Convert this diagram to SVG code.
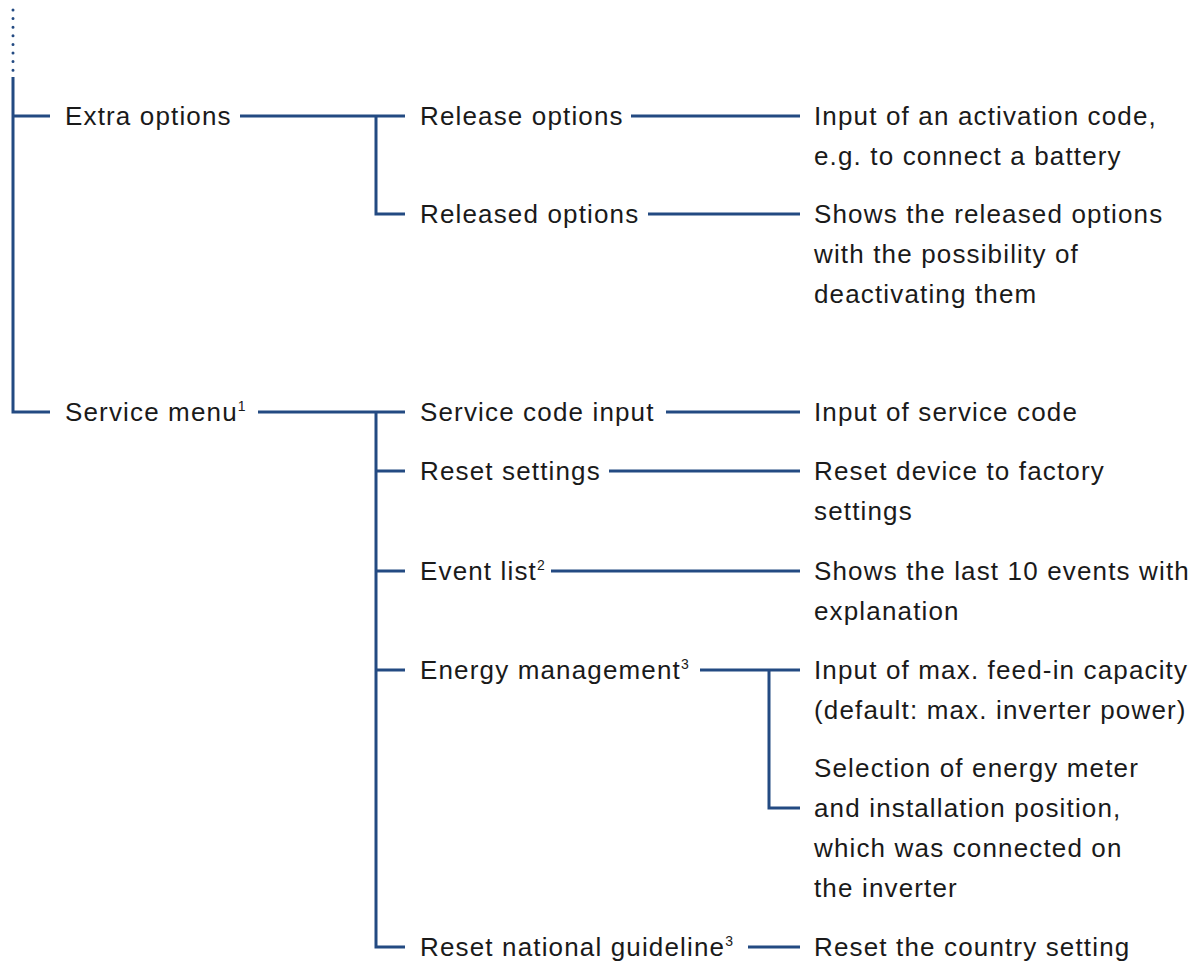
<svg xmlns="http://www.w3.org/2000/svg" width="1201" height="962" viewBox="0 0 1201 962">
<style>
.t{font-family:"Liberation Sans",Arial,sans-serif;font-size:26px;letter-spacing:1.15px;fill:#1a1a1a}
.s{font-size:14px;letter-spacing:0}
.c{fill:none;stroke:#234a82;stroke-width:3}
.d{fill:none;stroke:#234a82;stroke-width:3;stroke-linecap:round;stroke-dasharray:0 8.6}
</style>
<rect width="1201" height="962" fill="#fff"/>
<g id="connectors">
<path class="d" d="M13 10V72"/>
<path class="c" d="M13 77V413M13 116H50M11.5 412H50"/>
<path class="c" d="M240 116H405M376 116V215.5M374.5 214H405"/>
<path class="c" d="M631 116H800M648 214H800"/>
<path class="c" d="M258 412H405M376 412V948.5M374.5 947H405M376 471H405M376 571H405M376 670H405"/>
<path class="c" d="M666 412H800M609 471H800M551 571H800M700 670H800M769 670V809.5M767.5 808H800M748 947H800"/>
</g>
<g id="n-extra"><text class="t" x="65" y="125">Extra options</text></g>
<g id="n-service"><text class="t" x="65" y="421">Service menu<tspan class="s" dy="-10">1</tspan></text></g>
<g id="n-release"><text class="t" x="420" y="125">Release options</text></g>
<g id="n-released"><text class="t" x="420" y="223">Released options</text></g>
<g id="n-code"><text class="t" x="420" y="421">Service code input</text></g>
<g id="n-reset"><text class="t" x="420" y="480">Reset settings</text></g>
<g id="n-event"><text class="t" x="420" y="580">Event list<tspan class="s" dy="-10">2</tspan></text></g>
<g id="n-energy"><text class="t" x="420" y="679">Energy management<tspan class="s" dy="-10">3</tspan></text></g>
<g id="n-national"><text class="t" x="420" y="956">Reset national guideline<tspan class="s" dy="-10">3</tspan></text></g>
<g id="d-release"><text class="t" x="814" y="125">Input of an activation code,<tspan x="814" dy="40">e.g. to connect a battery</tspan></text></g>
<g id="d-released"><text class="t" x="814" y="223">Shows the released options<tspan x="814" dy="40">with the possibility of</tspan><tspan x="814" dy="40">deactivating them</tspan></text></g>
<g id="d-code"><text class="t" x="814" y="421">Input of service code</text></g>
<g id="d-reset"><text class="t" x="814" y="480">Reset device to factory<tspan x="814" dy="40">settings</tspan></text></g>
<g id="d-event"><text class="t" x="814" y="580">Shows the last 10 events with<tspan x="814" dy="40">explanation</tspan></text></g>
<g id="d-feed"><text class="t" x="814" y="679">Input of max. feed-in capacity<tspan x="814" dy="40">(default: max. inverter power)</tspan></text></g>
<g id="d-meter"><text class="t" x="814" y="777">Selection of energy meter<tspan x="814" dy="40">and installation position,</tspan><tspan x="814" dy="40">which was connected on</tspan><tspan x="814" dy="40">the inverter</tspan></text></g>
<g id="d-national"><text class="t" x="814" y="956">Reset the country setting</text></g>
</svg>
